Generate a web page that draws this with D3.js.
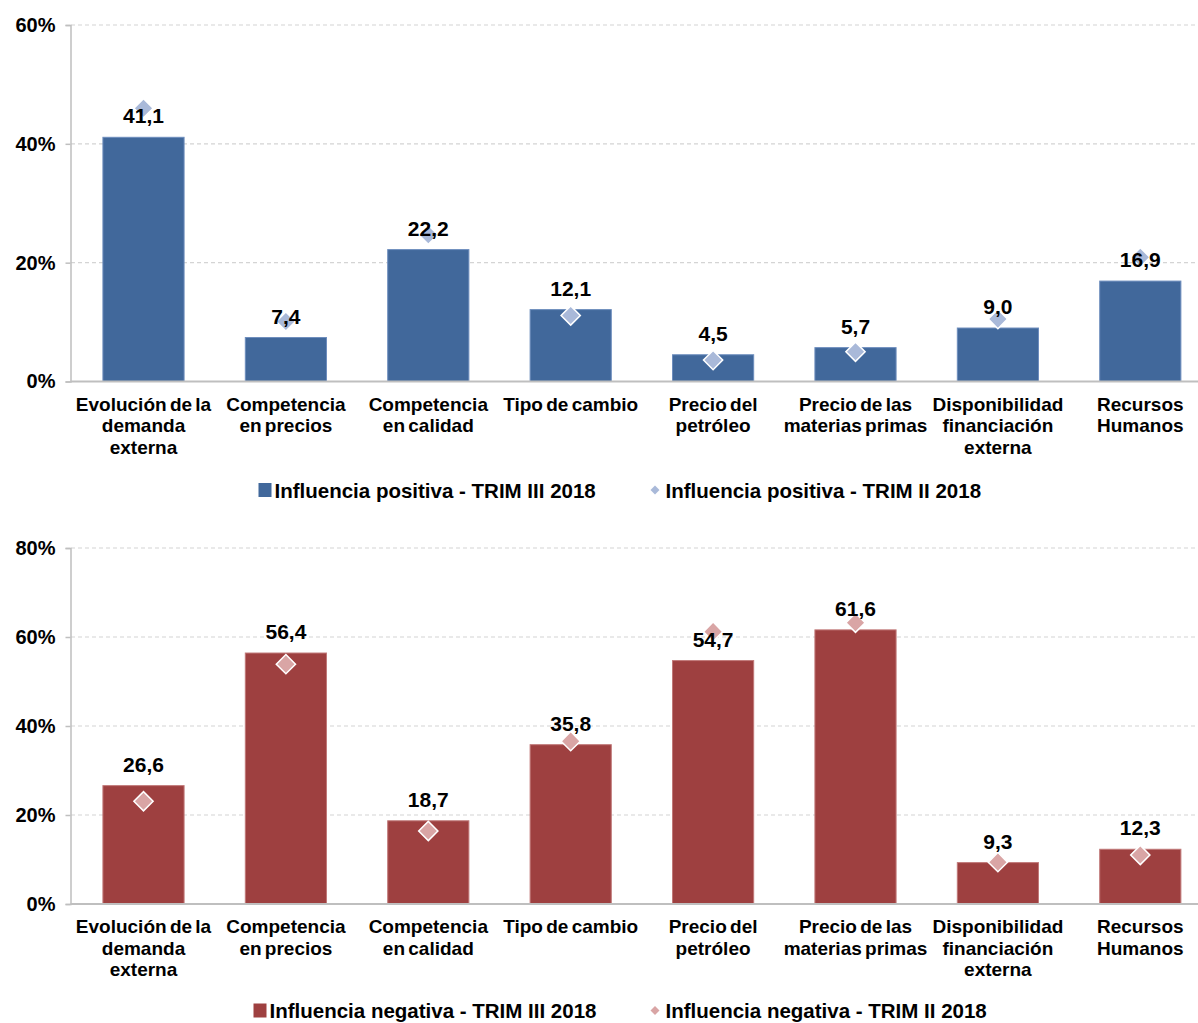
<!DOCTYPE html>
<html>
<head>
<meta charset="utf-8">
<script src="https://cdn.jsdelivr.net/npm/d3@7"></script>
<style>
  body { margin: 0; background: #fff; }
  svg { display: block; font-family: "Liberation Sans", Arial, sans-serif; font-weight: bold; }
</style>
</head>
<body>
<svg id="chart" width="1198" height="1023"></svg>
<script>
// Categories (lines split by "|")
const categories = [
    'Evolución de la|demanda|externa',
    'Competencia|en precios',
    'Competencia|en calidad',
    'Tipo de cambio',
    'Precio del|petróleo',
    'Precio de las|materias primas',
    'Disponibilidad|financiación|externa',
    'Recursos|Humanos'
];

// Influencia positiva
const posTrim3 = [41.1, 7.4, 22.2, 12.1, 4.5, 5.7, 9.0, 16.9];
const posTrim2 = [46.0, 10.1, 24.7, 11.1, 3.6, 5.0, 10.5, 20.9];

// Influencia negativa
const negTrim3 = [26.6, 56.4, 18.7, 35.8, 54.7, 61.6, 9.3, 12.3];
const negTrim2 = [23.1, 53.9, 16.4, 36.6, 61.2, 63.2, 9.4, 11.0];

const posTicks = [0, 20, 40, 60];
const negTicks = [0, 20, 40, 60, 80];

const legendPos = ['Influencia positiva - TRIM III 2018', 'Influencia positiva - TRIM II 2018'];
const legendNeg = ['Influencia negativa - TRIM III 2018', 'Influencia negativa - TRIM II 2018'];

const svg = d3.select('#chart');
const fmt = v => v.toFixed(1).replace('.', ',');

function drawPanel(opt) {
    const g = svg.append('g');

    const x = d3.scaleBand()
        .domain(categories)
        .range([72.3, 1211.5])
        .paddingInner(0.43)
        .paddingOuter(0.215);

    const y = d3.scaleLinear()
        .domain([0, d3.max(opt.ticks)])
        .range([opt.bottom, opt.top]);

    // gridlines
    g.append('g').selectAll('line')
        .data(opt.ticks.filter(t => t > 0))
        .enter().append('line')
        .attr('x1', 71).attr('x2', 1198)
        .attr('y1', d => y(d)).attr('y2', d => y(d))
        .attr('stroke', '#d4d4d4')
        .attr('stroke-width', 1.2)
        .attr('stroke-dasharray', '4,3');

    // y axis
    const yAxis = g.append('g')
        .attr('transform', 'translate(70.5,0)')
        .call(d3.axisLeft(y).tickValues(opt.ticks).tickSize(5).tickPadding(10).tickFormat(d => d + '%'));
    yAxis.select('.domain').attr('stroke', '#bfbfbf').attr('stroke-width', 1.5);
    yAxis.selectAll('.tick line').attr('stroke', '#bfbfbf').attr('stroke-width', 1.5);
    yAxis.selectAll('.tick text')
        .attr('fill', '#000')
        .style('font-size', '20px')
        .style('font-weight', 'bold')
        .style('font-family', '"Liberation Sans", Arial, sans-serif');

    // bars
    g.append('g').selectAll('rect')
        .data(opt.bars)
        .enter().append('rect')
        .attr('x', (d, i) => x(categories[i]))
        .attr('y', d => y(d))
        .attr('width', x.bandwidth())
        .attr('height', d => y(0) - y(d))
        .attr('fill', opt.barColor)
        .attr('stroke', opt.barStroke)
        .attr('stroke-width', 1);

    // x axis baseline
    g.append('line')
        .attr('x1', 70.5).attr('x2', 1198)
        .attr('y1', y(0)).attr('y2', y(0))
        .attr('stroke', '#bfbfbf')
        .attr('stroke-width', 2);

    // diamonds (previous quarter)
    const diamond = d3.symbol().type(d3.symbolSquare).size(185);
    g.append('g').selectAll('path')
        .data(opt.marks)
        .enter().append('path')
        .attr('d', diamond)
        .attr('transform', (d, i) => `translate(${x(categories[i]) + x.bandwidth() / 2},${y(d)}) rotate(45)`)
        .attr('fill', opt.markColor)
        .attr('stroke', '#fff')
        .attr('stroke-width', 1.5);

    // value labels
    g.append('g').selectAll('text')
        .data(opt.bars)
        .enter().append('text')
        .attr('x', (d, i) => x(categories[i]) + x.bandwidth() / 2)
        .attr('y', d => y(d) - 14)
        .attr('text-anchor', 'middle')
        .style('font-size', '21px')
        .text(d => fmt(d));

    // category labels
    const cat = g.append('g').selectAll('text')
        .data(categories)
        .enter().append('text')
        .attr('x', d => x(d) + x.bandwidth() / 2)
        .attr('y', y(0) + 29)
        .attr('text-anchor', 'middle')
        .style('font-size', '19px')
        .style('word-spacing', '-2px');
    cat.selectAll('tspan')
        .data(d => d.split('|'))
        .enter().append('tspan')
        .attr('x', function () { return d3.select(this.parentNode).attr('x'); })
        .attr('dy', (d, i) => i === 0 ? 0 : 21.5)
        .text(d => d);

    // legend
    const lg = g.append('g').style('font-size', '20.5px');
    lg.append('rect')
        .attr('x', opt.legX[0]).attr('y', opt.legY - 7)
        .attr('width', 13).attr('height', 14)
        .attr('fill', opt.barColor);
    lg.append('text')
        .attr('x', opt.legX[0] + 16).attr('y', opt.legY + 7.5)
        .text(opt.legend[0]);
    lg.append('path')
        .attr('d', d3.symbol().type(d3.symbolSquare).size(40))
        .attr('transform', `translate(${opt.legX[1]},${opt.legY}) rotate(45)`)
        .attr('fill', opt.markColor);
    lg.append('text')
        .attr('x', opt.legX[1] + 10.5).attr('y', opt.legY + 7.5)
        .text(opt.legend[1]);
}

drawPanel({
    top: 25, bottom: 381.5, ticks: posTicks,
    bars: posTrim3, marks: posTrim2,
    barColor: '#41689b', barStroke: '#6d8dbd', markColor: '#a9b9d9',
    legend: legendPos, legX: [258.5, 655], legY: 490
});

drawPanel({
    top: 548, bottom: 904, ticks: negTicks,
    bars: negTrim3, marks: negTrim2,
    barColor: '#9e4040', barStroke: '#c07878', markColor: '#d9a5a5',
    legend: legendNeg, legX: [253.5, 655], legY: 1010.5
});
</script>
</body>
</html>
